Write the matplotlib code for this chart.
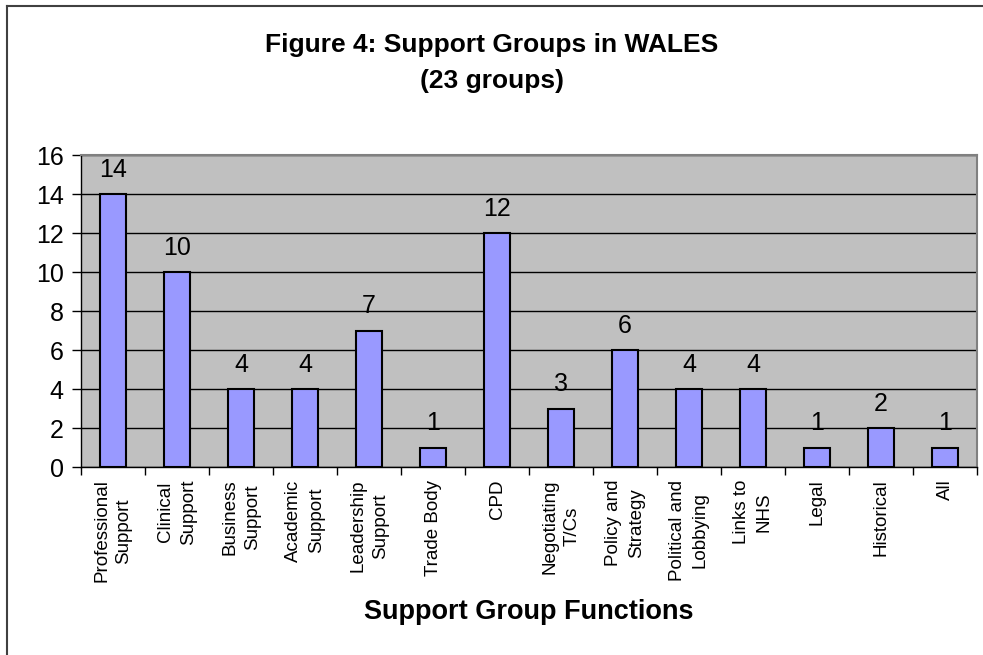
import numpy as np
import matplotlib.pyplot as plt
from matplotlib.lines import Line2D

plt.rcParams['font.family'] = ['Liberation Sans', 'DejaVu Sans']

categories = ['Professional\nSupport', 'Clinical\nSupport', 'Business\nSupport',
              'Academic\nSupport', 'Leadership\nSupport', 'Trade Body', 'CPD',
              'Negotiating\nT/Cs', 'Policy and\nStrategy', 'Political and\nLobbying',
              'Links to\nNHS', 'Legal', 'Historical', 'All']
counts = [14, 10, 4, 4, 7, 1, 12, 3, 6, 4, 4, 1, 2, 1]
y_ticks = [0, 2, 4, 6, 8, 10, 12, 14, 16]

fig = plt.figure(figsize=(9.83, 6.55), dpi=100)
ax = fig.add_axes([0.0824, 0.287, 0.9116, 0.476])
ax.set_facecolor('#C0C0C0')

x = np.arange(len(categories))
bars = ax.bar(x, counts, width=0.41, color='#9999FF', edgecolor='black',
              linewidth=1.5, zorder=3)
for xi, v in zip(x, counts):
    ax.annotate(str(v), (xi, v), xytext=(0, 9), textcoords='offset points',
                ha='center', va='bottom', fontsize=18)

ax.set_xlim(-0.5, len(categories) - 0.5)
ax.set_ylim(0, 16)
ax.set_yticks(y_ticks)
ax.tick_params(axis='y', labelsize=18, length=6.5, width=1, direction='out', pad=6)
ax.yaxis.grid(True, color='black', linewidth=1, zorder=0)
ax.set_axisbelow(True)

# category boundaries carry the tick marks, labels sit at the centres
ax.set_xticks(np.arange(len(categories) + 1) - 0.5)
ax.set_xticklabels([])
ax.tick_params(axis='x', which='major', length=6, width=1, direction='out')
ax.set_xticks(x, minor=True)
ax.set_xticklabels(categories, minor=True, rotation=90, fontsize=13.5,
                   va='top', ha='center', multialignment='center',
                   linespacing=1.4)
ax.tick_params(axis='x', which='minor', length=0, pad=9)

for side in ['top', 'right']:
    ax.spines[side].set_color('#808080')
    ax.spines[side].set_linewidth(1.5)
for side in ['left', 'bottom']:
    ax.spines[side].set_color('black')
    ax.spines[side].set_linewidth(1)

fig.text(0.5, 0.931, 'Figure 4: Support Groups in WALES', ha='center', va='center',
         fontsize=19, fontweight='bold')
fig.text(0.5, 0.876, '(23 groups)', ha='center', va='center',
         fontsize=19, fontweight='bold')
fig.text(0.538, 0.065, 'Support Group Functions', ha='center', va='center',
         fontsize=19.5, fontweight='bold')

# chart area frame
fig.add_artist(Line2D([7 / 983, 1], [1 - 6 / 655] * 2, color='#404040', lw=1.5))
fig.add_artist(Line2D([7 / 983] * 2, [0, 1 - 6 / 655], color='#404040', lw=1.5))

fig.savefig('out.png', dpi=100)
